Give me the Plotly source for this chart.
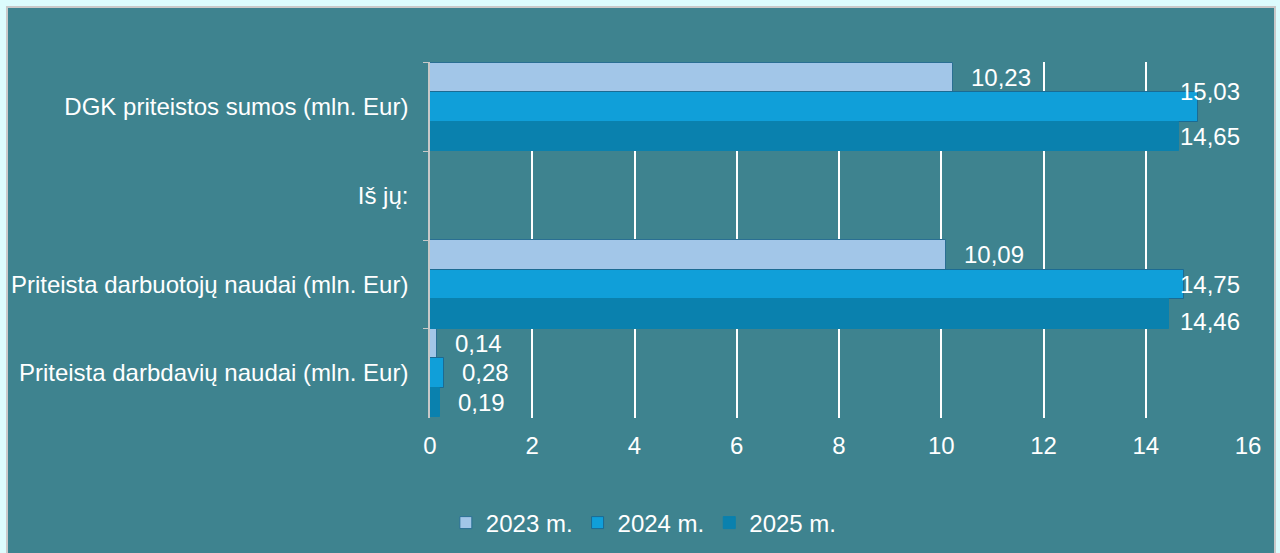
import plotly.graph_objects as go

categories = ["DGK priteistos sumos (mln. Eur)", "Iš jų:", "Priteista darbuotojų naudai (mln. Eur)", "Priteista darbdavių naudai (mln. Eur)"]
series_names = ["2023 m.", "2024 m.", "2025 m."]
v2023 = [10.23, None, 10.09, 0.14]
v2024 = [15.03, None, 14.75, 0.28]
v2025 = [14.65, None, 14.46, 0.19]
x_ticks = [0, 2, 4, 6, 8, 10, 12, 14, 16]
x_max = 16

colors = ["#a2c6e8", "#109fd9", "#0a81ae"]
line_colors = ["#2a6f93", "#1b6b93", "#0a81ae"]

def fmt(v):
    return f"{v:.2f}".replace(".", ",")

W, H = 1280, 553
L, R, T, B = 430, 32, 62, 135
pw, ph = W - L - R, H - T - B
FS = 24

def px(x):
    return (x - L) / pw

def py(y):
    return 1 - (y - T) / ph

fig = go.Figure()
series = [v2023, v2024, v2025]
for name, vals, c, lc in zip(series_names, series, colors, line_colors):
    fig.add_trace(go.Bar(
        y=categories, x=vals, name=name, orientation="h",
        marker=dict(color=c, line=dict(color=lc, width=1)),
        cliponaxis=False,
    ))

# data labels (Excel-like "outside end", pulled back inside the plot near the right edge)
label_font = dict(color="white", size=FS, family="Liberation Sans, Arial")
nudge_y = {(1, 0): 16, (2, 2): -8}
annotations = []
n = len(series)
for si, vals in enumerate(series):
    for ci, v in enumerate(vals):
        if v is None:
            continue
        ypos = ci + (si - (n - 1) / 2) / n
        near_edge = v * pw / x_max + 16 + 70 > pw
        annotations.append(dict(
            x=(x_max if near_edge else v), y=ypos, xref="x", yref="y",
            text=fmt(v), showarrow=False, font=label_font,
            xanchor=("right" if near_edge else "left"),
            xshift=(-6 if near_edge else 16), yshift=nudge_y.get((si, ci), 0),
        ))

fig.update_layout(
    width=W, height=H,
    margin=dict(l=L, r=R, t=T, b=B),
    paper_bgcolor="#dcfcfd",
    plot_bgcolor="rgba(0,0,0,0)",
    barmode="group", bargap=0, bargroupgap=0,
    font=dict(family="Liberation Sans, Arial", color="white", size=FS),
    showlegend=True,
    legend=dict(orientation="h", x=0.503, xref="container", xanchor="center",
                y=(H - 523) / H, yref="container", yanchor="middle",
                bgcolor="rgba(0,0,0,0)",
                font=dict(size=FS, color="white"), itemwidth=30, traceorder="normal"),
    annotations=annotations,
    shapes=[dict(type="rect", xref="paper", yref="paper",
                 x0=px(7), x1=px(1275), y0=py(7), y1=py(560),
                 fillcolor="#3e838f", line=dict(color="#c9c9c9", width=2), layer="below")],
    xaxis=dict(range=[0, x_max], tickvals=x_ticks, showgrid=True, gridcolor="white", gridwidth=1.5,
               zeroline=False, showline=False, tickfont=dict(size=FS, color="white"),
               ticks="", ticklabelstandoff=11),
    yaxis=dict(autorange="reversed", showline=True, linecolor="#c8c8c8", linewidth=1.5,
               ticks="outside", tickson="boundaries", ticklen=5, tickcolor="#c8c8c8",
               tickfont=dict(size=FS, color="white"), showgrid=False, ticklabelstandoff=15),
)

fig.write_html("out.html", config={"displayModeBar": False},
               post_script="document.body.style.margin='0';document.body.style.overflow='hidden';")
